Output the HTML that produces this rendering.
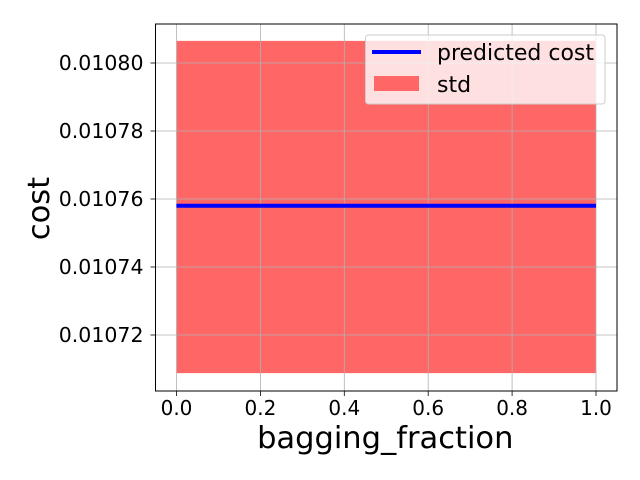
<!DOCTYPE html>
<html><head><meta charset="utf-8"><style>body{margin:0;background:#fff}svg{display:block}text{font-family:"DejaVu Sans","Liberation Sans",sans-serif}</style></head>
<body>
<svg id="c" width="640" height="480"></svg>
<script>
const xTicks=[0,0.2,0.4,0.6,0.8,1.0];
const xTickLabels=["0.0","0.2","0.4","0.6","0.8","1.0"];
const yTicks=[0.01072,0.01074,0.01076,0.01078,0.01080];
const yTickLabels=["0.01072","0.01074","0.01076","0.01078","0.01080"];
const xRange=[0,1];
const predicted=[0.010758,0.010758];
const stdLow=[0.0107088,0.0107088];
const stdHigh=[0.0108065,0.0108065];
const L=155.5,R=617,T=24,B=391;
const x=v=>176.5+(v-0)*(596-176.5);
const y=v=>63+(0.01080-v)/0.00002*68;
const s=document.getElementById('c');const NS='http://www.w3.org/2000/svg';
function mk(t,a,txt){const e=document.createElementNS(NS,t);for(const k in a)e.setAttribute(k,a[k]);if(txt!==undefined)e.textContent=txt;s.appendChild(e);return e;}
let e;
e=mk('polygon',{points:`${x(xRange[0])},${y(stdHigh[0])} ${x(xRange[1])},${y(stdHigh[1])} ${x(xRange[1])},${y(stdLow[1])} ${x(xRange[0])},${y(stdLow[0])}`,fill:'#ff6666'});


xTicks.forEach((v,i)=>{
 e=mk('line',{x1:x(v),x2:x(v),y1:T,y2:B,stroke:'#b0b0b0','stroke-width':0.8});
 
 
 mk('line',{x1:x(v),x2:x(v),y1:B,y2:B+5,stroke:'#000','stroke-width':0.8});
 e=mk('text',{x:x(v),y:B+24,'text-anchor':'middle','font-size':20},xTickLabels[i]);
 
 
});
yTicks.forEach((v,i)=>{
 e=mk('line',{x1:L,x2:R,y1:y(v),y2:y(v),stroke:'#b0b0b0','stroke-width':0.8});
 
 
 mk('line',{x1:L-5,x2:L,y1:y(v),y2:y(v),stroke:'#000','stroke-width':0.8});
 e=mk('text',{x:L-12,y:y(v)+7,'text-anchor':'end','font-size':20.5},yTickLabels[i]);
 
 
});
e=mk('line',{x1:x(xRange[0]),x2:x(xRange[1]),y1:y(predicted[0]),y2:y(predicted[1]),stroke:'#0000ff','stroke-width':4});


e=mk('rect',{x:L,y:T,width:R-L,height:B-T,fill:'none',stroke:'#000','stroke-width':1});


e=mk('text',{x:(L+R)/2-1,y:448,'text-anchor':'middle','font-size':30.5},'bagging_fraction');


e=mk('text',{x:0,y:0,'text-anchor':'middle','font-size':30.5,transform:`translate(49,${(T+B)/2+1}) rotate(-90)`},'cost');


e=mk('rect',{x:365.5,y:35,width:239.5,height:69,rx:3,fill:'#fff','fill-opacity':0.8,stroke:'#ccc','stroke-width':1});


mk('line',{x1:372,x2:421,y1:52,y2:52,stroke:'#0000ff','stroke-width':4});
e=mk('text',{x:437,y:60,'font-size':22},'predicted cost');


mk('rect',{x:374,y:76,width:45,height:15,fill:'#ff6666'});
e=mk('text',{x:437,y:92,'font-size':22},'std');


</script>
</body></html>
